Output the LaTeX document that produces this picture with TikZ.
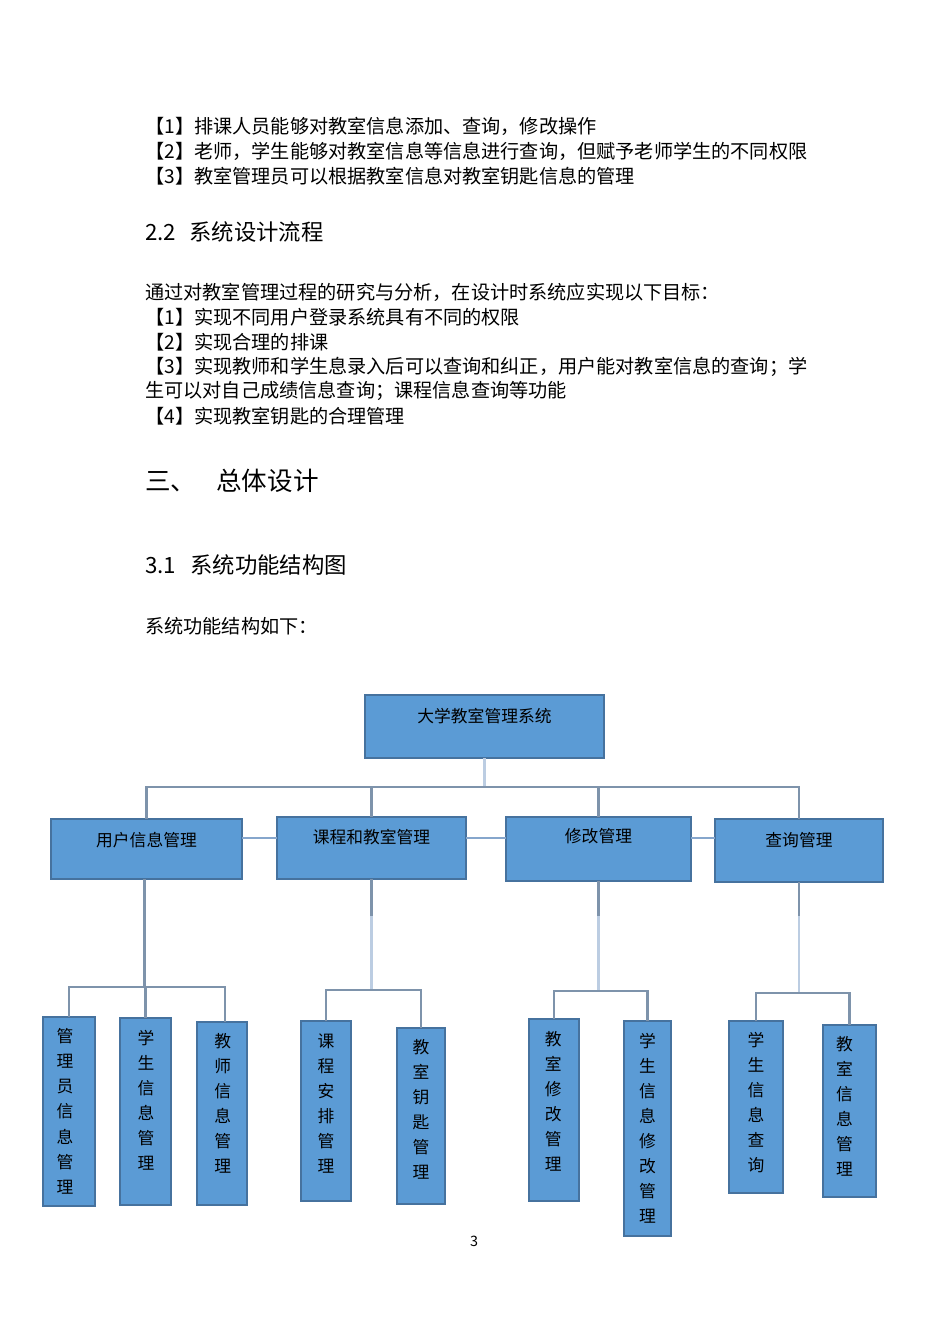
\documentclass[tikz,border=0pt]{standalone}
\usepackage{fontspec}
\setmainfont{Noto Sans CJK SC}
\usetikzlibrary{calc}
\definecolor{boxfill}{HTML}{5B9BD5}
\definecolor{boxline}{HTML}{46729E}
\definecolor{connC}{HTML}{7E93AB}
\definecolor{lightC}{HTML}{BCCDE2}
\definecolor{sideC}{HTML}{86A6CC}
\newcommand\mkbox[5]{\node[box, minimum width={(#4-#2)*0.6263pt}, minimum height={(#5-#3)*0.6263pt}] (#1) at ({(#2+#4)/2},{(#3+#5)/2}) {};}
\begin{document}
\begin{tikzpicture}[x=0.6263pt,y=-0.6263pt,
  txt/.style={anchor=west, inner sep=0pt, font=\fontsize{12pt}{15pt}\selectfont},
  hfour/.style={anchor=west, inner sep=0pt, font=\fontsize{14pt}{16pt}\selectfont},
  hthree/.style={anchor=west, inner sep=0pt, font=\fontsize{16pt}{18pt}\selectfont},
  box/.style={draw=boxline, fill=boxfill, line width=1.4pt, inner sep=0pt, outer sep=0pt},
  lbl/.style={inner sep=0pt, font=\fontsize{10.5pt}{12pt}\selectfont},
  vtxt/.style={inner sep=0pt, anchor=north, align=center, font=\fontsize{10.5pt}{15.66pt}\selectfont},
  conn/.style={draw=connC, line width=1.3pt},
  lightconn/.style={draw=lightC, line width=1.4pt},
  sideconn/.style={draw=sideC, line width=1.2pt}]
\useasboundingbox (0,0) rectangle (950,1344);
\fill[white] (0,0) rectangle (950,1344);

% ---- text ----
\node[txt] (t1) at (145,126) {【1】排课人员能够对教室信息添加、查询，修改操作};
\node[txt] (t2) at (145,151) {【2】老师，学生能够对教室信息等信息进行查询，但赋予老师学生的不同权限};
\node[txt] (t3) at (145,176) {【3】教室管理员可以根据教室信息对教室钥匙信息的管理};
\node[hfour] (h22) at (145,232) {\makebox[27.6pt][l]{2.2}系统设计流程};
\node[txt] (p1) at (145,292) {通过对教室管理过程的研究与分析，在设计时系统应实现以下目标：};
\node[txt] (p2) at (145,317) {【1】实现不同用户登录系统具有不同的权限};
\node[txt] (p3) at (145,342) {【2】实现合理的排课};
\node[txt] (p4) at (145,367) {【3】实现教师和学生息录入后可以查询和纠正，用户能对教室信息的查询；学};
\node[txt] (p5) at (145,391) {生可以对自己成绩信息查询；课程信息查询等功能};
\node[txt] (p6) at (145,416) {【4】实现教室钥匙的合理管理};
\node[hthree] (h3) at (145,481) {\makebox[44.5pt][l]{三、}总体设计};
\node[hfour] (h31) at (145,565) {\makebox[28.2pt][l]{3.1}系统功能结构图};
\node[txt] (p7) at (145,626) {系统功能结构如下：};
\node[inner sep=0pt, font=\fontsize{9pt}{10pt}\selectfont] (pg) at (474,1241) {3};

% ---- boxes ----
\mkbox{root}{365}{695}{604}{758}
\mkbox{u1}{51}{819}{242}{879}
\mkbox{u2}{277}{817}{466}{879}
\mkbox{u3}{506}{817}{691}{881}
\mkbox{u4}{715}{819}{883}{882}

\mkbox{a1}{43}{1017}{95}{1206}
\mkbox{a2}{120}{1018}{171}{1205}
\mkbox{a3}{197}{1022}{247}{1205}
\mkbox{b1}{301}{1021}{351}{1201}
\mkbox{b2}{397}{1028}{445}{1204}
\mkbox{c1}{529}{1019}{579}{1201}
\mkbox{c2}{624}{1021}{671}{1236}
\mkbox{d1}{729}{1021}{783}{1193}
\mkbox{d2}{823}{1025}{876}{1197}

% ---- box labels ----
\node[lbl] at ($(root.north)+(0,21.5)$) {大学教室管理系统};
\node[lbl] at ($(u1.north)+(0,21)$) {用户信息管理};
\node[lbl] at ($(u2.north)+(0,20)$) {课程和教室管理};
\node[lbl] at ($(u3.north)+(0,19.5)$) {修改管理};
\node[lbl] at ($(u4.north)+(0,21)$) {查询管理};

\node[vtxt] at ($(a1.north)+(-4,11.5)$) {管\\理\\员\\信\\息\\管\\理};
\node[vtxt] at ($(a2.north)+(0.5,11.5)$) {学\\生\\信\\息\\管\\理};
\node[vtxt] at ($(a3.north)+(0.7,11.5)$) {教\\师\\信\\息\\管\\理};
\node[vtxt] at ($(b1.north)+(0,12)$) {课\\程\\安\\排\\管\\理};
\node[vtxt] at ($(b2.north)+(0,11.5)$) {教\\室\\钥\\匙\\管\\理};
\node[vtxt] at ($(c1.north)+(-0.7,12)$) {教\\室\\修\\改\\管\\理};
\node[vtxt] at ($(c2.north)+(0,12)$) {学\\生\\信\\息\\修\\改\\管\\理};
\node[vtxt] at ($(d1.north)+(0,10.5)$) {学\\生\\信\\息\\查\\询};
\node[vtxt] at ($(d2.north)+(-5,11.5)$) {教\\室\\信\\息\\管\\理};

% ---- connectors, top level ----
\coordinate (bus) at (0,787);
\coordinate (sidey) at (0,838);
\draw[lightconn] (root.south) -- (root.south |- bus);
\draw[conn] (u1.north) -- (u1.north |- bus) -- (u4.north |- bus) -- (u4.north);
\draw[conn] (u2.north) -- (u2.north |- bus);
\draw[conn] (u3.north) -- (u3.north |- bus);
\draw[sideconn] (u1.east |- sidey) -- (u2.west |- sidey);
\draw[sideconn] (u2.east |- sidey) -- (u3.west |- sidey);
\draw[sideconn] (u3.east |- sidey) -- (u4.west |- sidey);

% ---- connectors, second level ----
\coordinate (g1) at (0,987);
\coordinate (g2) at (0,990);
\coordinate (g3) at (0,991);
\coordinate (g4) at (0,993);
\coordinate (a3t) at ($(a3.north)+(3,0)$);

\draw[conn] ($(u1.south)+(-2,0)$) -- ($(u1.south |- g1)+(-2,0)$);
\draw[conn] (a1.north) -- (a1.north |- g1) -- (a3t |- g1) -- (a3t);
\draw[conn] (a2.north) -- (a2.north |- g1);

\draw[conn] (u2.south) -- ++(0,37) coordinate (u2m);
\draw[lightconn] (u2m) -- (u2.south |- g2);
\draw[conn] (b1.north) -- (b1.north |- g2) -| (b2.north);

\draw[conn] (u3.south) -- ++(0,35) coordinate (u3m);
\draw[lightconn] (u3m) -- (u3.south |- g3);
\draw[conn] (c1.north) -- (c1.north |- g3) -| (c2.north);

\draw[conn] (u4.south) -- ++(0,34) coordinate (u4m);
\draw[lightconn] (u4m) -- (u4.south |- g4);
\draw[conn] (d1.north) -- (d1.north |- g4) -| (d2.north);
\end{tikzpicture}
\end{document}
